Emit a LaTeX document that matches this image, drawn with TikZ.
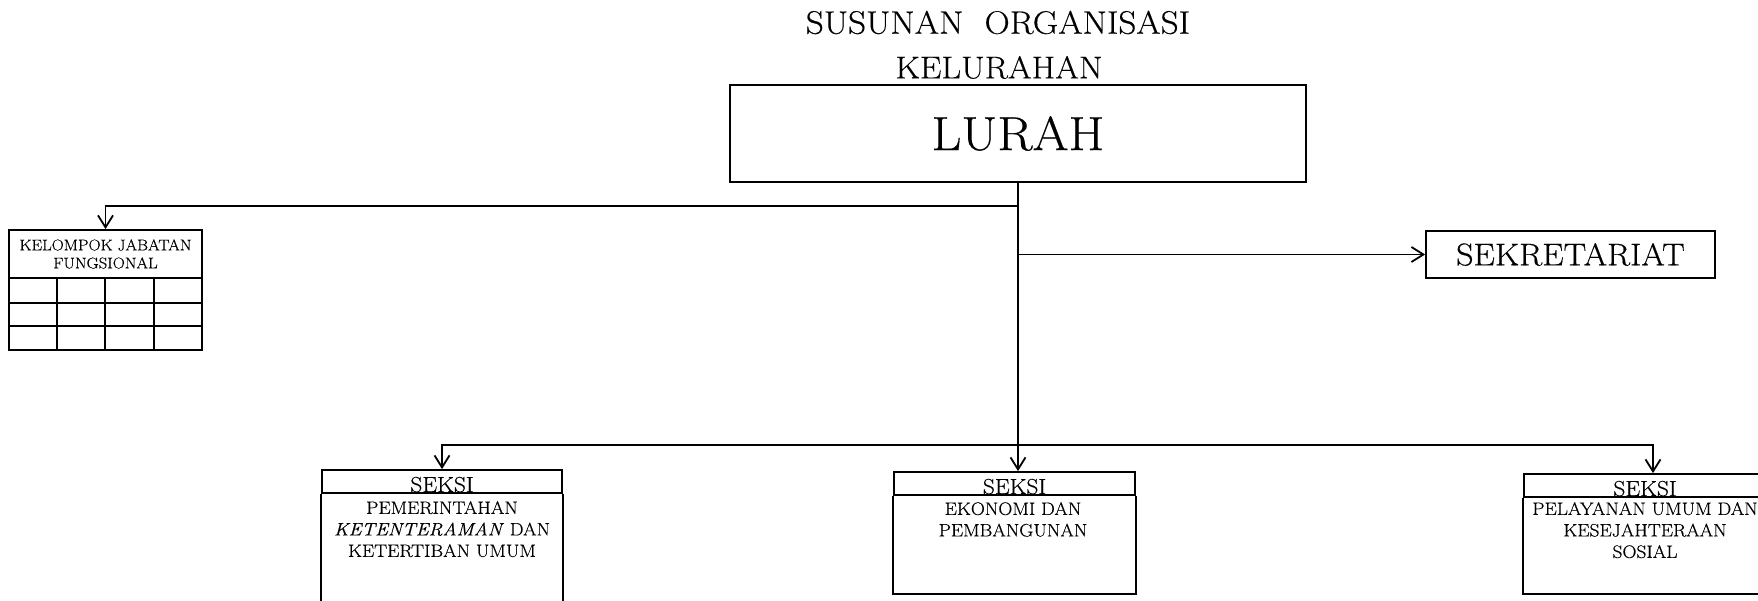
\documentclass[tikz,border=0pt]{standalone}
\usepackage{fontspec}
\setmainfont{Latin Modern Roman}[FakeStretch=1.08, FakeBold=0.4]
\usetikzlibrary{arrows.meta}
\newcommand{\fsz}[2]{\fontsize{#1}{#2}\selectfont}
\begin{document}
\begin{tikzpicture}[x=1pt,y=-1pt,
  box/.style={draw, line width=1.8pt, inner sep=0pt},
  line/.style={line width=1.8pt},
  arr/.style={line width=1.8pt, -{Straight Barb[length=12pt,width=15pt]}},
  seksi/.style={font=\fsz{21.7}{25}, anchor=base, inner sep=0pt},
  body/.style={font=\fsz{18}{21.5}, anchor=north, align=center, inner sep=0pt}
  ]
\useasboundingbox (0,0) rectangle (1758,601);
% titles
\node[font=\fsz{32.5}{38}] (t1) at (998,22.5) {SUSUNAN\ \ ORGANISASI};
\node[font=\fsz{31.6}{37}] (t2) at (999,67.5) {KELURAHAN};
% lurah
\node[box, minimum width=576pt, minimum height=97pt, font=\fsz{48}{58}] (lurah) at (1018,133.5) {LURAH};
% kelompok jabatan fungsional
\node[box, minimum width=193pt, minimum height=48pt, align=center, font=\fsz{15.5}{18}] (kjf) at (105.5,254) {KELOMPOK JABATAN\\FUNGSIONAL};
\draw[line] (9,278) rectangle (202,350);
\foreach \yy in {303,326} \draw[line] (9,\yy) -- (202,\yy);
\foreach \xx in {57,105,154} \draw[line] (\xx,278) -- (\xx,350);
% sekretariat
\node[box, minimum width=289pt, minimum height=47pt, font=\fsz{31.4}{37}] (sek) at (1570.5,254.5) {SEKRETARIAT};
% seksi 1
\node[box, minimum width=240pt, minimum height=23pt] (s1h) at (442,481.5) {};
\draw[line] (s1h.south west) -- ++(0,120) (s1h.south east) -- ++(0,120);
\node[seksi] (s1t) at (442,492) {SEKSI};
\node[body] (s1d) at (442,501) {PEMERINTAHAN\\\textit{KETENTERAMAN} DAN\\KETERTIBAN UMUM};
% seksi 2
\node[box, minimum width=241pt, minimum height=23pt] (s2h) at (1014.5,483.5) {};
\draw[line] (s2h.south west) -- ++(0,98) -| (s2h.south east);
\node[seksi] (s2t) at (1014.5,494) {SEKSI};
\node[body] (s2d) at (1013,502) {EKONOMI DAN\\PEMBANGUNAN};
% seksi 3
\node[box, minimum width=258pt, minimum height=23pt] (s3h) at (1653,485.5) {};
\draw[line] (s3h.south west) -- ++(0,96) -| (s3h.south east);
\node[seksi] (s3t) at (1645,496) {SEKSI};
\node[body] (s3d) at (1645,502) {PELAYANAN UMUM DAN\\KESEJAHTERAAN\\SOSIAL};
% connectors
\coordinate (j1) at (lurah.south |- 0,206);
\coordinate (j2) at (lurah.south |- sek.west);
\coordinate (bus) at (lurah.south |- 0,445);
\draw[line] (lurah.south) -- (bus);
\draw[arr] (j1) -| (kjf.north);
\draw[arr] (j2) -- (sek.west);
\draw[arr] (bus) -| (s1h.north);
\draw[arr] (bus) -- (bus |- s2h.north);
\draw[arr] (bus) -| (s3h.north);
\end{tikzpicture}
\end{document}
